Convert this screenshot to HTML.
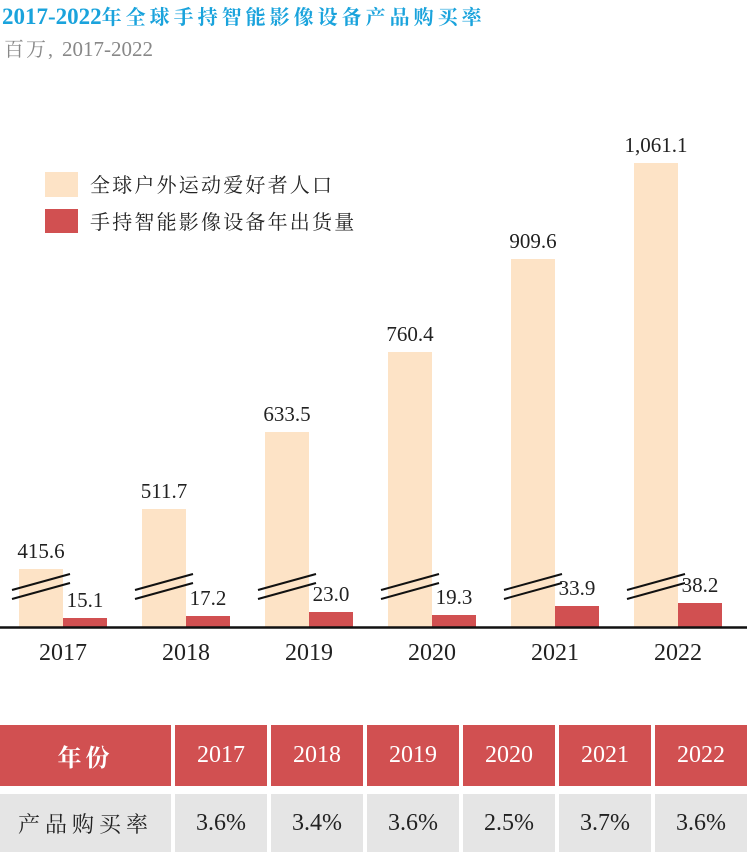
<!DOCTYPE html>
<html><head><meta charset="utf-8"><style>
body{margin:0;width:747px;height:852px;background:#fff;overflow:hidden;position:relative;font-family:"Liberation Serif","Noto Serif CJK SC",serif}
.t{position:absolute;left:2px;top:1px;font-size:20px;font-weight:bold;color:#1aa3dc;white-space:nowrap;letter-spacing:4px}
.t b{font-size:23px;letter-spacing:0}
.s{position:absolute;left:4px;top:33px;font-size:20px;color:#888;white-space:nowrap;letter-spacing:2px}
.s b{font-weight:normal;font-size:21px;letter-spacing:0}
.tb{position:absolute;display:flex;align-items:center;justify-content:center;font-size:24px}
.h{background:#d15051;color:#fff;top:725px;height:61px}
.r{background:#e5e5e5;color:#222;top:794px;height:58px}
</style></head><body>
<div class="t"><b>2017-2022</b>年全球手持智能影像设备产品购买率</div>
<div class="s">百万, <b>2017-2022</b></div>
<svg width="747" height="700" style="position:absolute;left:0;top:0" font-family="Liberation Serif, serif">
<rect x="45" y="172" width="33" height="25" fill="#fde3c6"/>
<rect x="45" y="209" width="33" height="24" fill="#d15051"/>
<text x="90" y="192" font-size="20" letter-spacing="2.2" font-family="Noto Serif CJK SC, serif" fill="#222">全球户外运动爱好者人口</text>
<text x="90" y="229" font-size="20" letter-spacing="2.2" font-family="Noto Serif CJK SC, serif" fill="#222">手持智能影像设备年出货量</text>
<g fill="#fde3c6">
<rect x="19" y="569" width="44" height="58"/><rect x="142" y="509" width="44" height="118"/><rect x="265" y="432" width="44" height="195"/><rect x="388" y="352" width="44" height="275"/><rect x="511" y="259" width="44" height="368"/><rect x="634" y="163" width="44" height="464"/>
</g>
<g fill="#d15051">
<rect x="63" y="618" width="44" height="9"/><rect x="186" y="616" width="44" height="11"/><rect x="309" y="612" width="44" height="15"/><rect x="432" y="615" width="44" height="12"/><rect x="555" y="606" width="44" height="21"/><rect x="678" y="603" width="44" height="24"/>
</g>
<g stroke="#111" stroke-width="2">
<line x1="12" y1="590" x2="70" y2="574"/><line x1="12" y1="599" x2="70" y2="583"/>
<line x1="135" y1="590" x2="193" y2="574"/><line x1="135" y1="599" x2="193" y2="583"/>
<line x1="258" y1="590" x2="316" y2="574"/><line x1="258" y1="599" x2="316" y2="583"/>
<line x1="381" y1="590" x2="439" y2="574"/><line x1="381" y1="599" x2="439" y2="583"/>
<line x1="504" y1="590" x2="562" y2="574"/><line x1="504" y1="599" x2="562" y2="583"/>
<line x1="627" y1="590" x2="685" y2="574"/><line x1="627" y1="599" x2="685" y2="583"/>
<line x1="0" y1="627.5" x2="747" y2="627.5" stroke-width="2.5"/>
</g>
<g font-size="21" fill="#222" text-anchor="middle">
<text x="41" y="558">415.6</text><text x="164" y="498">511.7</text><text x="287" y="421">633.5</text><text x="410" y="341">760.4</text><text x="533" y="248">909.6</text><text x="656" y="152">1,061.1</text>
<text x="85" y="607">15.1</text><text x="208" y="605">17.2</text><text x="331" y="601">23.0</text><text x="454" y="604">19.3</text><text x="577" y="595">33.9</text><text x="700" y="592">38.2</text>
</g>
<g font-size="24" fill="#222" text-anchor="middle">
<text x="63" y="660">2017</text><text x="186" y="660">2018</text><text x="309" y="660">2019</text><text x="432" y="660">2020</text><text x="555" y="660">2021</text><text x="678" y="660">2022</text>
</g>
</svg>
<div class="tb h" style="left:0;width:171px;font-weight:bold;letter-spacing:4px;font-family:'Noto Serif CJK SC',serif">年份</div>
<div class="tb h" style="left:175px;width:92px">2017</div>
<div class="tb h" style="left:271px;width:92px">2018</div>
<div class="tb h" style="left:367px;width:92px">2019</div>
<div class="tb h" style="left:463px;width:92px">2020</div>
<div class="tb h" style="left:559px;width:92px">2021</div>
<div class="tb h" style="left:655px;width:92px">2022</div>
<div class="tb r" style="left:0;width:171px;font-size:22px;letter-spacing:5px;font-family:'Noto Serif CJK SC',serif">产品购买率</div>
<div class="tb r" style="left:175px;width:92px">3.6%</div>
<div class="tb r" style="left:271px;width:92px">3.4%</div>
<div class="tb r" style="left:367px;width:92px">3.6%</div>
<div class="tb r" style="left:463px;width:92px">2.5%</div>
<div class="tb r" style="left:559px;width:92px">3.7%</div>
<div class="tb r" style="left:655px;width:92px">3.6%</div>
</body></html>
